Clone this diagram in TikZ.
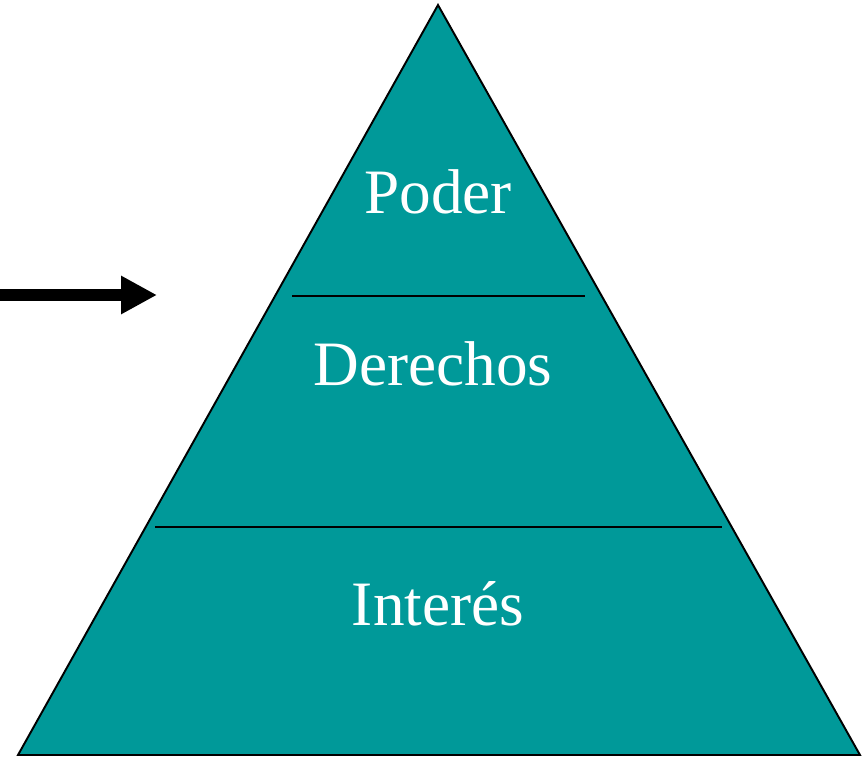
\documentclass[tikz,border=0pt]{standalone}
\usepackage{fontspec}
\setmainfont{Liberation Serif}
\usetikzlibrary{arrows.meta}
\definecolor{piramide}{HTML}{009999}

\begin{document}
\begin{tikzpicture}[x=0.02cm, y=-0.02cm,
        nivel/.style={text=white, font=\fontsize{36}{40}\selectfont, anchor=base, inner sep=0pt}]
        \useasboundingbox (0,0) rectangle (867,758);
        \coordinate (cima) at (438,5);
        \coordinate (izq) at (18,755);
        \coordinate (der) at (860,755);
        \draw[line width=1.1pt, fill=piramide, line join=miter] (cima) -- (der) -- (izq) -- cycle;
        %\draw[dashed] (cima) -- (438,755);
        \coordinate (l1a) at (292,296);
        \coordinate (l1b) at (585,296);
        \coordinate (l2a) at (155,527);
        \coordinate (l2b) at (722,527);
        \draw[line width=0.8pt] (l1a) -- (l1b);
        \draw[line width=0.8pt] (l2a) -- (l2b);
        \node[nivel] (poder) at (438,213) {Poder};
        \node[nivel] (derechos) at (433,385) {Derechos};
        \node[nivel] (interes) at (438,625) {Interés};
        \coordinate (flechaA) at (0,295);
        \coordinate (flechaB) at (157,295);
        \draw[-{Triangle[length=0.72cm, width=0.72cm]}, line width=0.24cm] (flechaA) -- (flechaB);
    \end{tikzpicture}
\end{document}
